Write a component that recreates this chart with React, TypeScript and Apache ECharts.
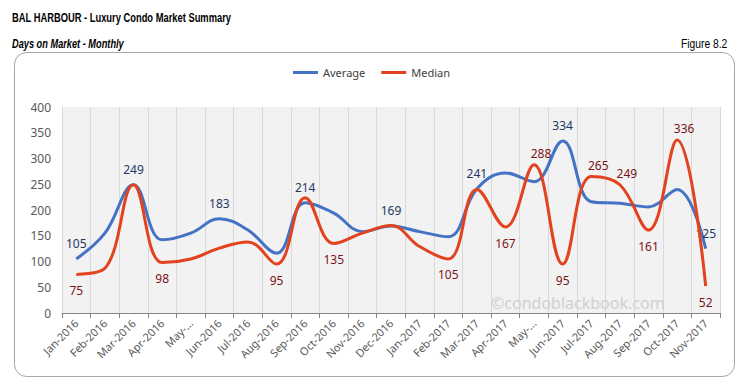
import React, { useEffect, useRef } from "react";
import * as echarts from "echarts";

const categories = [
  "Jan-2016", "Feb-2016", "Mar-2016", "Apr-2016", "May-...", "Jun-2016", "Jul-2016",
  "Aug-2016", "Sep-2016", "Oct-2016", "Nov-2016", "Dec-2016", "Jan-2017", "Feb-2017",
  "Mar-2017", "Apr-2017", "May-...", "Jun-2017", "Jul-2017", "Aug-2017", "Sep-2017",
  "Oct-2017", "Nov-2017",
];

const averageValues = [105, 155, 249, 142, 155, 183, 161, 116, 214, 194, 158, 169, 158, 148, 241, 272, 255, 334, 216, 213, 206, 240, 125];
const medianValues = [75, 87, 249, 98, 105, 126, 138, 95, 224, 135, 155, 170, 129, 105, 240, 167, 288, 95, 265, 249, 161, 336, 52];

// indices of labelled points
const averageLabelled = [0, 2, 5, 8, 11, 14, 17, 22];
const medianLabelledBelow = [0, 3, 7, 9, 13, 15, 17, 20, 22];
const medianLabelledAbove = [16, 18, 19, 21];

const yTicks = { min: 0, max: 400, interval: 50 };

const BLUE = "#4472C4";
const RED = "#E2431E";
const FONT = "'Noto Sans', 'Open Sans', sans-serif";
const ARIAL = "'Liberation Sans', Arial, sans-serif";

export default function App() {
  const ref = useRef<HTMLDivElement>(null);
  useEffect(() => {
    document.body.style.margin = "0";
    if (!ref.current) return;
    const chart = echarts.init(ref.current, null, { renderer: "svg" });

    const avgData = averageValues.map((v, i) =>
      averageLabelled.includes(i)
        ? { value: v, label: { show: true, position: "top", distance: 9, color: "#1F3864" } }
        : v
    );
    const medData = medianValues.map((v, i) => {
      if (medianLabelledBelow.includes(i))
        return { value: v, label: { show: true, position: "bottom", distance: 10, color: "#7B1416" } };
      if (medianLabelledAbove.includes(i))
        return { value: v, label: { show: true, position: "top", distance: 5, offset: [7, 0], color: "#7B1416" } };
      return v;
    });

    chart.setOption({
      animation: false,
      backgroundColor: "#ffffff",
      graphic: [
        {
          type: "rect",
          shape: { x: 14.5, y: 52.5, width: 720, height: 324, r: 12 },
          style: { fill: "none", stroke: "#a6a6a6", lineWidth: 1 },
          z: 0,
        },
        {
          type: "text",
          x: 12,
          y: 11,
          scaleX: 0.72,
          style: { text: "BAL HARBOUR - Luxury Condo Market Summary", font: `bold 13px ${ARIAL}`, fill: "#000" },
        },
        {
          type: "text",
          x: 12,
          y: 37,
          scaleX: 0.71,
          style: { text: "Days on Market - Monthly", font: `italic bold 13px ${ARIAL}`, fill: "#000" },
        },
        {
          type: "text",
          x: 681,
          y: 37,
          scaleX: 0.79,
          style: { text: "Figure 8.2", font: `13px ${ARIAL}`, fill: "#000" },
        },
        {
          type: "text",
          x: 491,
          y: 295,
          z: 1,
          style: { text: "©condoblackbook.com", font: `16px ${FONT}`, fill: "#d0d0d0" },
        },
      ],
      legend: {
        top: 62,
        left: "center",
        icon: "rect",
        itemWidth: 25,
        itemHeight: 3,
        itemGap: 16,
        textStyle: { fontFamily: FONT, fontSize: 11, color: "#404040" },
        data: ["Average", "Median"],
      },
      grid: {
        left: 62,
        right: 23,
        top: 107,
        bottom: 71,
        show: true,
        backgroundColor: "#f2f2f2",
        borderWidth: 0,
        containLabel: false,
      },
      xAxis: {
        type: "category",
        data: categories,
        boundaryGap: true,
        axisLine: { lineStyle: { color: "#868686", width: 1 } },
        axisTick: { show: true, length: 5, lineStyle: { color: "#868686" } },
        splitLine: { show: true, lineStyle: { color: "#d9d9d9", width: 1 } },
        axisLabel: {
          rotate: 45,
          interval: 0,
          margin: 8,
          fontFamily: FONT,
          fontSize: 11,
          color: "#595959",
        },
      },
      yAxis: {
        type: "value",
        min: yTicks.min,
        max: yTicks.max,
        interval: yTicks.interval,
        axisLine: { show: false },
        axisTick: { show: false },
        splitLine: { show: false },
        axisLabel: { fontFamily: FONT, fontSize: 12, color: "#595959", margin: 11 },
      },
      series: [
        {
          name: "Average",
          type: "line",
          data: avgData,
          smooth: 0.4,
          symbol: "circle",
          symbolSize: 0.01,
          showSymbol: true,
          lineStyle: { color: BLUE, width: 3 },
          itemStyle: { color: BLUE },
          label: { fontFamily: FONT, fontSize: 12 },
          z: 3,
        },
        {
          name: "Median",
          type: "line",
          data: medData,
          smooth: 0.4,
          symbol: "circle",
          symbolSize: 0.01,
          showSymbol: true,
          lineStyle: { color: RED, width: 3 },
          itemStyle: { color: RED },
          label: { fontFamily: FONT, fontSize: 12 },
          z: 4,
        },
      ],
    });
    return () => chart.dispose();
  }, []);
  return <div ref={ref} style={{ width: 743, height: 384 }} />;
}
